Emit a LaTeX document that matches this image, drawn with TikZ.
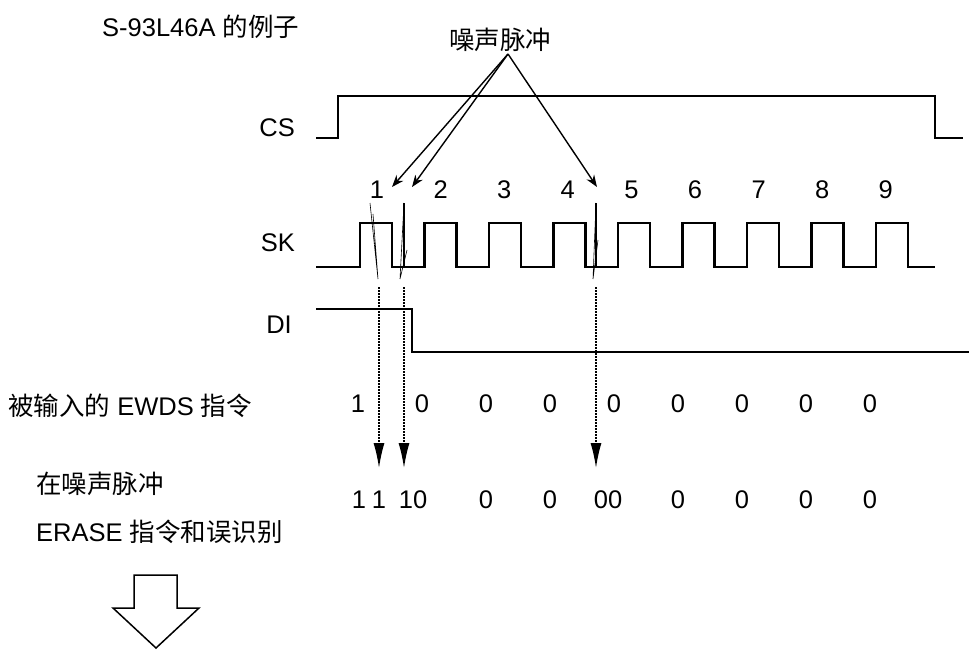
\documentclass[tikz,border=0pt]{standalone}
\usepackage{fontspec}
\setmainfont{Liberation Sans}
\newfontfamily\cjk{Noto Sans CJK SC}
\usetikzlibrary{positioning,arrows.meta}

\begin{document}
\begin{tikzpicture}[x=1pt,y=-1pt,
    txt/.style={font=\fontsize{25.5}{30}\selectfont, inner sep=0pt},
    wave/.style={line width=2.6pt},
    noise/.style={line width=0.6pt},
    ptr/.style={line width=1.4pt, -{Stealth[length=12pt,width=9pt]}},
    probe/.style={line width=1.4pt, dash pattern=on 1.5pt off 1.5pt, -{Latex[length=25pt,width=11pt]}}]
  \useasboundingbox (0,0) rectangle (969,650);

  % titles
  \node[txt, anchor=west] (title) at (102,27) {S-93L46A {\cjk 的例子}};
  \node[txt] (noiselbl) at (500,40) {\cjk 噪声脉冲};
  \coordinate (apex) at (508,54);

  % signal names
  \node[txt, anchor=east] (cs) at (295,128) {CS};
  \node[txt, anchor=east] (sk) at (295,243) {SK};
  \node[txt, anchor=east] (di) at (292,325) {DI};

  % CS
  \draw[wave, line width=2.2pt] (316,138) -- (338,138) -- (338,96) -- (935,96) -- (935,138) -- (963,138);

  % SK clock
  \draw[wave] (316,267) \foreach \i in {0,...,8} {
      -- ({360+64.5*\i},267) -- ({360+64.5*\i},223)
      -- ({392+64.5*\i},223) -- ({392+64.5*\i},267)} -- (935,267);
  \foreach \n in {1,...,9}
    \node[txt] (clk\n) at ({377+63.6*(\n-1)},190) {\n};

  % DI
  \draw[wave] (316,309) -- (412,309) -- (412,352) -- (969,352);

  % noise spikes
  \draw[noise] (370,203) -- (378,279) -- (373,214);
  \draw[line width=1.5pt] (404,203) -- (404,267);
  \draw[noise] (404,203) -- (400,279) -- (407,250);
  \draw[line width=1.5pt] (596,203) -- (596,267);
  \draw[noise] (596,203) -- (593,279) -- (598,240);

  % pointers from the label
  \coordinate (hit1) at (392,187);
  \coordinate (hit2) at (412,187);
  \coordinate (hit3) at (597,187);
  \draw[ptr] (apex) -- (hit1);
  \draw[ptr] (apex) -- (hit2);
  \draw[ptr] (apex) -- (hit3);

  % sampled bits
  \node[txt, anchor=west] (inlbl) at (8,406) {{\cjk 被输入的} EWDS {\cjk 指令}};
  \foreach \b [count=\k] in {1,0,0,0,0,0,0,0,0}
    \node[txt] (bit\k) at ({358+64*(\k-1)},404) {\b};

  % dotted probes
  \foreach \x [count=\k] in {379,404,596} {
    \coordinate (top\k) at (\x,287);
    \coordinate (bot\k) at (\x,468);
    \draw[probe] (top\k) -- (bot\k);
  }

  % misread bits
  \node[txt, anchor=west] (errlbl1) at (36,484) {\cjk 在噪声脉冲};
  \node[txt, anchor=west] (errlbl2) at (36,532) {ERASE {\cjk 指令和误识别}};
  \node[txt] (err1) at (359,500) {1};
  \node[txt] (err2) at (379,500) {1};
  \node[txt] (err3) at (413,500) {10};
  \node[txt] (err4) at (486,500) {0};
  \node[txt] (err5) at (550,500) {0};
  \node[txt] (err6) at (608,500) {00};
  \foreach \x [count=\k from 7] in {678,742,806,870}
    \node[txt] (err\k) at (\x,500) {0};

  % hollow arrow
  \draw[line width=1.5pt] (134,575) -- (177,575) -- (177,608) -- (199,608)
    -- (156,648) -- (113,608) -- (134,608) -- cycle;
\end{tikzpicture}
\end{document}
